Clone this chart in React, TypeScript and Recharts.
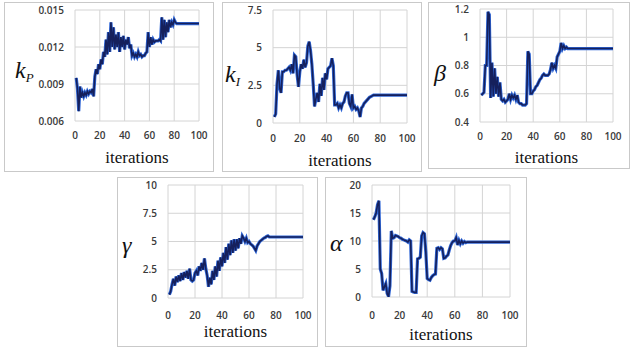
import React from 'react';
import { LineChart, Line, XAxis, YAxis, CartesianGrid } from 'recharts';

// iteration index shared by all five panels
const iterations = Array.from({ length: 100 }, (_, i) => i + 1);
const xTicks = [0, 20, 40, 60, 80, 100];

const kP = [
  0.0095, 0.0086, 0.0068, 0.0088, 0.0079, 0.0083, 0.008, 0.0083, 0.0081, 0.0084,
  0.0082, 0.0084, 0.0083, 0.0086, 0.008, 0.0096, 0.0102, 0.0098, 0.0106, 0.0102,
  0.011, 0.0106, 0.0116, 0.0112, 0.0126, 0.0114, 0.0132, 0.0116, 0.014, 0.012,
  0.0136, 0.0118, 0.013, 0.012, 0.0132, 0.0116, 0.0128, 0.012, 0.0129, 0.0118,
  0.0126, 0.0122, 0.0128, 0.0119, 0.0122, 0.0113, 0.0115, 0.0112, 0.0114, 0.0112,
  0.0116, 0.0113, 0.0114, 0.0112, 0.0113, 0.0113, 0.0115, 0.0116, 0.0132, 0.012,
  0.0128, 0.0122, 0.0126, 0.0124, 0.0125, 0.0125, 0.0125, 0.0126, 0.0125, 0.0144,
  0.0126, 0.0142, 0.0128, 0.014, 0.0132, 0.0142, 0.0136, 0.014, 0.0138, 0.0142,
  0.014, 0.0139, 0.0139, 0.0139, 0.0139, 0.0139, 0.0139, 0.0139, 0.0139, 0.0139,
  0.0139, 0.0139, 0.0139, 0.0139, 0.0139, 0.0139, 0.0139, 0.0139, 0.0139, 0.0139,
];

const kI = [
  0.4, 0.6, 2.6, 3.5, 2.3, 2.0, 3.4, 3.4, 3.5, 3.5,
  3.6, 3.7, 3.5, 3.9, 3.3, 4.5, 4.4, 3.2, 2.4, 3.4,
  3.9, 3.6, 4.2, 3.7, 4.0, 5.1, 5.4, 4.8, 3.9, 2.6,
  1.1, 1.6, 2.0, 1.4, 2.6, 1.8, 3.0, 2.2, 3.3, 2.9,
  3.6, 3.7, 3.8, 4.3, 3.8, 1.2, 1.2, 1.3, 1.0, 1.2,
  1.0, 1.3, 1.4, 1.8, 2.0, 2.0, 1.3, 1.1, 1.9, 1.0,
  1.1, 0.9, 1.0, 0.8, 0.4, 1.0, 1.1, 1.3, 1.4, 1.5,
  1.6, 1.7, 1.75, 1.8, 1.85, 1.85, 1.85, 1.85, 1.85, 1.85,
  1.85, 1.85, 1.85, 1.85, 1.85, 1.85, 1.85, 1.85, 1.85, 1.85,
  1.85, 1.85, 1.85, 1.85, 1.85, 1.85, 1.85, 1.85, 1.85, 1.85,
];

const beta = [
  0.59, 0.6, 0.61, 0.8, 0.8, 1.18, 1.16, 0.57, 0.82, 0.58,
  0.78, 0.6, 0.72, 0.58, 0.68, 0.56, 0.55, 0.56, 0.54, 0.55,
  0.56, 0.6, 0.56, 0.59, 0.57, 0.59, 0.56, 0.59, 0.54, 0.53,
  0.53, 0.52, 0.52, 0.52, 0.53, 0.9, 0.88, 0.6, 0.6, 0.62,
  0.63, 0.65, 0.66, 0.68, 0.7, 0.71, 0.73, 0.74, 0.73, 0.73,
  0.73, 0.74, 0.77, 0.82, 0.78, 0.8, 0.78, 0.86, 0.88, 0.9,
  0.96, 0.92, 0.94, 0.92, 0.93, 0.92, 0.92, 0.92, 0.92, 0.92,
  0.92, 0.92, 0.92, 0.92, 0.92, 0.92, 0.92, 0.92, 0.92, 0.92,
  0.92, 0.92, 0.92, 0.92, 0.92, 0.92, 0.92, 0.92, 0.92, 0.92,
  0.92, 0.92, 0.92, 0.92, 0.92, 0.92, 0.92, 0.92, 0.92, 0.92,
];

const gamma = [
  0.3, 0.6, 1.2, 1.7, 1.1, 1.9, 1.4, 2.0, 1.5, 2.2,
  1.6, 2.3, 1.8, 2.4, 1.7, 2.6, 1.6, 1.5, 1.6, 2.2,
  2.4, 2.0, 2.8, 2.4, 3.1, 2.5, 3.5, 2.6, 2.0, 1.0,
  1.8, 1.2, 2.4, 1.6, 2.8, 1.9, 3.3, 2.4, 3.6, 2.8,
  4.0, 3.1, 4.5, 3.4, 4.8, 3.8, 5.1, 4.0, 5.2, 4.2,
  5.2, 4.4, 5.3, 4.8, 5.5, 5.3, 5.0, 5.3, 4.9, 5.0,
  4.8, 4.7, 4.6, 4.4, 4.2, 4.6, 4.8, 5.0, 5.1, 5.2,
  5.3, 5.35, 5.45, 5.5, 5.4, 5.4, 5.4, 5.4, 5.4, 5.4,
  5.4, 5.4, 5.4, 5.4, 5.4, 5.4, 5.4, 5.4, 5.4, 5.4,
  5.4, 5.4, 5.4, 5.4, 5.4, 5.4, 5.4, 5.4, 5.4, 5.4,
];

const alpha = [
  13.8, 14.3, 15.0, 16.5, 17.2, 5.0, 4.2, 1.2, 1.8, 2.4,
  0.6, 0.1, 2.0, 11.8, 10.5, 10.6, 11.0, 10.9, 10.8, 10.6,
  10.5, 10.3, 10.2, 10.1, 10.0, 9.8, 10.2, 10.0, 1.0, 0.9,
  0.8, 0.8, 6.8, 6.9, 7.1, 10.9, 11.5, 11.3, 8.0, 3.3,
  3.1, 3.0, 3.5, 3.8, 4.0, 4.1, 8.7, 8.8, 8.5, 8.8,
  8.6, 6.9, 7.0, 7.3, 7.5, 8.4, 9.2, 9.7, 10.0, 10.0,
  10.6, 9.3, 10.1, 9.5, 10.0, 9.6, 9.9, 9.7, 9.8, 9.8,
  9.8, 9.8, 9.8, 9.8, 9.8, 9.8, 9.8, 9.8, 9.8, 9.8,
  9.8, 9.8, 9.8, 9.8, 9.8, 9.8, 9.8, 9.8, 9.8, 9.8,
  9.8, 9.8, 9.8, 9.8, 9.8, 9.8, 9.8, 9.8, 9.8, 9.8,
];

const toRows = (vals: number[]) => iterations.map((it, i) => ({ it, v: vals[i] }));

const tickStyle = { fontSize: 10, fill: '#3a3a3a', fontFamily: 'Open Sans', fontWeight: 600 };
const symbolStyle: React.CSSProperties = {
  position: 'absolute',
  fontFamily: '"Liberation Serif", serif',
  fontStyle: 'italic',
  fontSize: 24,
  lineHeight: 1,
  color: '#111',
};

type PanelProps = {
  box: { left: number; top: number; width: number; height: number };
  top: number;
  yWidth: number;
  right: number;
  xHeight: number;
  xMargin: number;
  labelTop: number;
  values: number[];
  domain: [number, number];
  yTicks: number[];
  fmt: (v: number) => string;
  symbol: React.ReactNode;
  symbolPos: { left: number; top: number };
};

function Panel(p: PanelProps) {
  const W = p.box.width - 2;
  const H = p.box.height - 2;
  const plotW = W - p.yWidth - p.right;
  return (
    <div
      style={{
        position: 'absolute',
        left: p.box.left,
        top: p.box.top,
        width: p.box.width,
        height: p.box.height,
        boxSizing: 'border-box',
        border: '1px solid #c9c9c9',
        background: '#fff',
      }}
    >
      <LineChart width={W} height={H} data={toRows(p.values)} margin={{ top: p.top, right: p.right, left: 0, bottom: 0 }}>
        <CartesianGrid stroke="#d4d4d4" horizontalValues={p.yTicks} verticalValues={xTicks} />
        <XAxis
          dataKey="it"
          type="number"
          domain={[0, 100]}
          ticks={xTicks}
          axisLine={false}
          tickLine={false}
          tickSize={0}
          tickMargin={p.xMargin}
          height={p.xHeight}
          tick={tickStyle}
          interval={0}
        />
        <YAxis
          type="number"
          domain={p.domain}
          ticks={p.yTicks}
          tickFormatter={p.fmt}
          axisLine={false}
          tickLine={false}
          tickSize={0}
          tickMargin={11}
          width={p.yWidth}
          tick={tickStyle}
          interval={0}
          allowDataOverflow
        />
        <Line dataKey="v" type="linear" stroke="#2f66d6" strokeWidth={3.2} dot={false} isAnimationActive={false} />
        <Line dataKey="v" type="linear" stroke="#15205c" strokeWidth={1.6} dot={false} isAnimationActive={false} />
      </LineChart>
      <div style={{ ...symbolStyle, left: p.symbolPos.left, top: p.symbolPos.top }}>{p.symbol}</div>
      <div
        style={{
          position: 'absolute',
          left: p.yWidth,
          width: plotW,
          top: p.labelTop,
          textAlign: 'center',
          fontFamily: '"Liberation Serif", serif',
          fontSize: 17,
          lineHeight: 1,
          color: '#111',
        }}
      >
        iterations
      </div>
    </div>
  );
}

const sub = (s: string) => <sub style={{ fontSize: 13, verticalAlign: '-0.3em' }}>{s}</sub>;

export default function App() {
  return (
    <div style={{ position: 'absolute', left: 0, top: 0, width: 637, height: 350, background: '#fff' }}>
      <Panel
        box={{ left: 4, top: 2, width: 210, height: 170 }}
        top={7} yWidth={70} right={14} xHeight={50} xMargin={11} labelTop={146}
        values={kP} domain={[0.006, 0.015]} yTicks={[0.006, 0.009, 0.012, 0.015]}
        fmt={(v) => v.toFixed(3)}
        symbol={<span>k{sub('P')}</span>}
        symbolPos={{ left: 10, top: 55 }}
      />
      <Panel
        box={{ left: 222, top: 2, width: 200, height: 170 }}
        top={7} yWidth={50} right={14} xHeight={48} xMargin={12} labelTop={149}
        values={kI} domain={[0, 7.5]} yTicks={[0, 2.5, 5, 7.5]}
        fmt={(v) => String(v)}
        symbol={<span>k{sub('I')}</span>}
        symbolPos={{ left: 2, top: 59 }}
      />
      <Panel
        box={{ left: 428, top: 2, width: 202, height: 167 }}
        top={6} yWidth={51} right={16} xHeight={46} xMargin={11} labelTop={146}
        values={beta} domain={[0.4, 1.2]} yTicks={[0.4, 0.6, 0.8, 1, 1.2]}
        fmt={(v) => String(Math.round(v * 10) / 10)}
        symbol={<span>β</span>}
        symbolPos={{ left: 5, top: 58 }}
      />
      <Panel
        box={{ left: 117, top: 177, width: 201, height: 170 }}
        top={7} yWidth={50} right={14} xHeight={48} xMargin={14} labelTop={145}
        values={gamma} domain={[0, 10]} yTicks={[0, 2.5, 5, 7.5, 10]}
        fmt={(v) => String(v)}
        symbol={<span>γ</span>}
        symbolPos={{ left: 4, top: 55 }}
      />
      <Panel
        box={{ left: 325, top: 177, width: 202, height: 170 }}
        top={7} yWidth={46} right={16} xHeight={49} xMargin={15} labelTop={148}
        values={alpha} domain={[0, 20]} yTicks={[0, 5, 10, 15, 20]}
        fmt={(v) => String(v)}
        symbol={<span>α</span>}
        symbolPos={{ left: 4, top: 53 }}
      />
    </div>
  );
}
